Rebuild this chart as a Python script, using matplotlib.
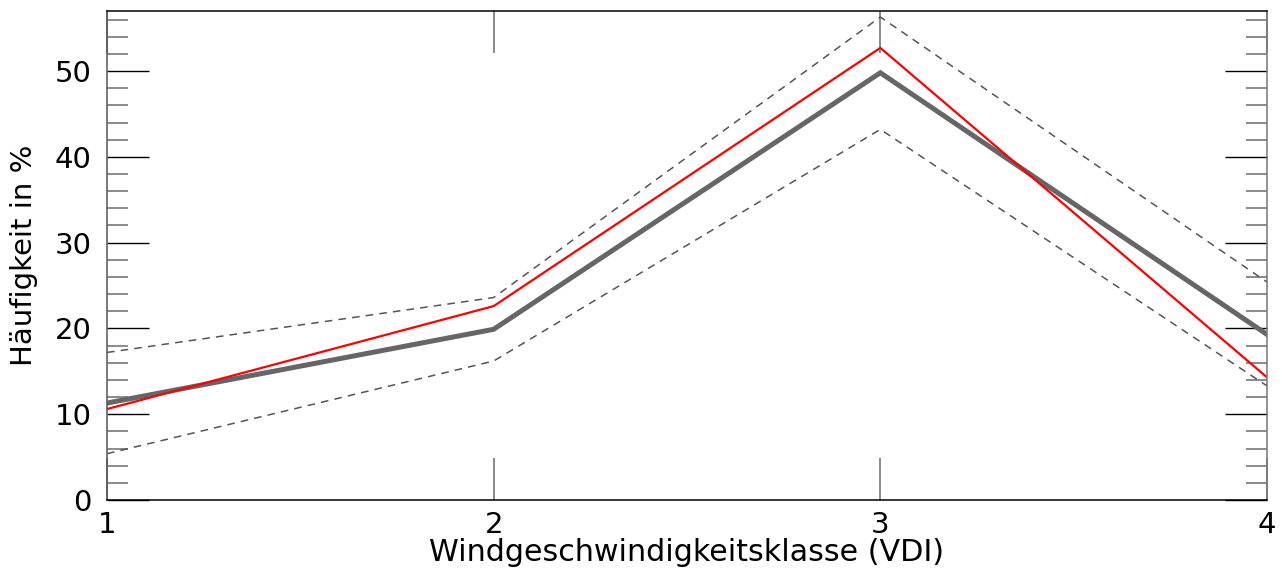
import matplotlib
matplotlib.use("Agg")
import matplotlib.pyplot as plt
from matplotlib.ticker import MultipleLocator

# wind speed class (VDI)
klassen = [1, 2, 3, 4]
mittel = [11.3, 19.9, 49.8, 19.3]
rot = [10.6, 22.6, 52.7, 14.3]
oben = [17.2, 23.6, 56.3, 25.4]
unten = [5.4, 16.2, 43.2, 13.3]

fig = plt.figure(figsize=(12.82, 5.72), dpi=100)
ax = fig.add_axes([107/1282, 1 - 500/572, 1160/1282, 489/572])

ax.plot(klassen, oben, color='#555555', lw=1.1, ls=(0, (5, 4)))
ax.plot(klassen, unten, color='#555555', lw=1.1, ls=(0, (5, 4)))
ax.plot(klassen, mittel, color='#666666', lw=3.6, solid_joinstyle='miter')
ax.plot(klassen, rot, color='red', lw=1.6, solid_joinstyle='miter')

ax.set_xlim(1, 4)
ax.set_ylim(0, 57)
ax.xaxis.set_major_locator(MultipleLocator(1))
ax.yaxis.set_major_locator(MultipleLocator(10))
ax.yaxis.set_minor_locator(MultipleLocator(2))

ax.tick_params(axis='both', which='both', direction='in', top=True, right=True)
ax.tick_params(axis='y', which='major', length=30, width=1, color='black', labelsize=21, pad=11)
ax.tick_params(axis='y', which='minor', length=15, width=1.2, color='#777777')
ax.tick_params(axis='x', which='major', length=30, width=1.2, color='#777777', labelsize=21, pad=8)

for s in ax.spines.values():
    s.set_linewidth(1.1)
ax.spines['right'].set_color('#777777')
ax.spines['left'].set_color('#555555')

ax.set_xlabel('Windgeschwindigkeitsklasse (VDI)', fontsize=21.7, labelpad=-1)
ax.set_ylabel('Häufigkeit in %', fontsize=21, labelpad=12)

fig.savefig('out.png', dpi=100)
